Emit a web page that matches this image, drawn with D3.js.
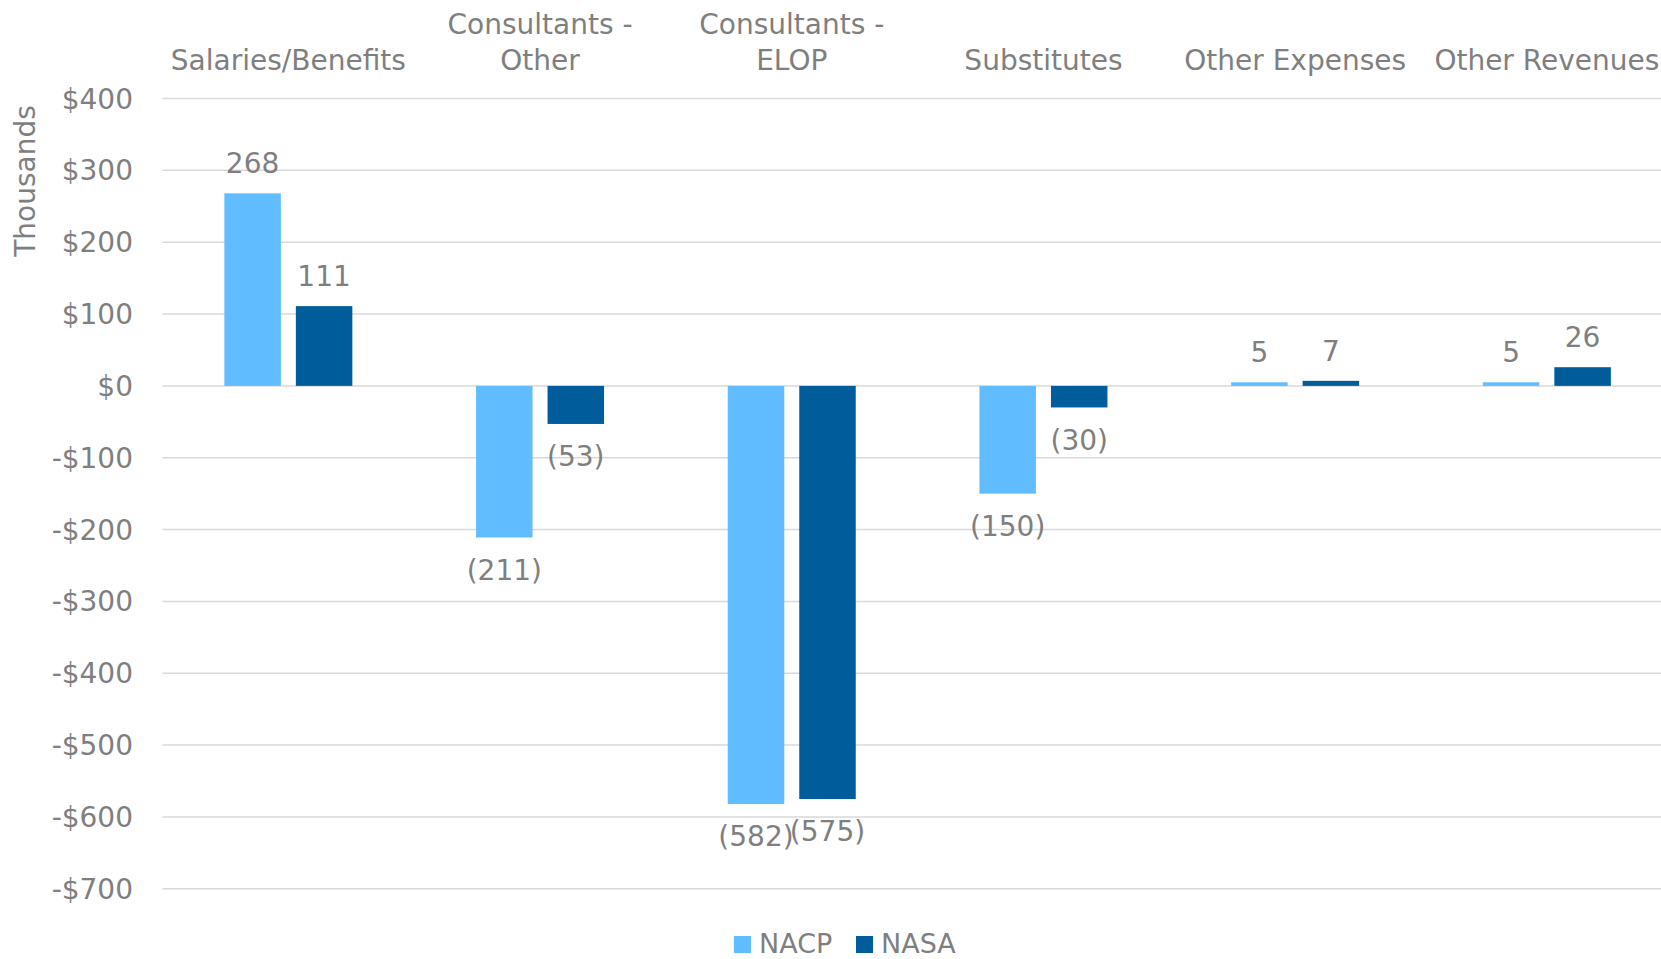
<!DOCTYPE html>
<html><head><meta charset="utf-8">
<script src="https://cdn.jsdelivr.net/npm/d3@7"></script>
<style>
html,body{margin:0;padding:0;background:#fff;overflow:hidden}
text{font-family:"DejaVu Sans",sans-serif;fill:#7f7f7f}
</style></head>
<body>
<svg id="c" width="1661" height="959"></svg>
<script>
const categories = [["Salaries/Benefits"],["Consultants -","Other"],["Consultants -","ELOP"],["Substitutes"],["Other Expenses"],["Other Revenues"]];
const seriesNames = ["NACP","NASA"];
const nacp = [268,-211,-582,-150,5,5];
const nasa = [111,-53,-575,-30,7,26];
const yTicks = [400,300,200,100,0,-100,-200,-300,-400,-500,-600,-700];
const colors = ["#61BDFF","#005C9B"];

const svg = d3.select("#c");
const W = 1661, H = 959;
const left = 162.5, bandW = 251.7;
const x = d3.scaleBand().domain(d3.range(categories.length)).range([left, left + bandW*categories.length]).paddingInner(0).paddingOuter(0);
const y = d3.scaleLinear().domain([-700,400]).range([888.8,98.5]);
const barW = 56.5, barGap = 15;
const x1 = d3.scaleOrdinal().domain([0,1]).range([-(barGap/2+barW), barGap/2]);

// gridlines
svg.append("g").selectAll("line").data(yTicks).join("line")
  .attr("x1", left).attr("x2", W)
  .attr("y1", d=>y(d)).attr("y2", d=>y(d))
  .attr("stroke","#d9d9d9").attr("stroke-width",1.5);

// y axis labels
const fmt = v => (v<0?"-":"") + "$" + Math.abs(v);
svg.append("g").selectAll("text").data(yTicks).join("text")
  .attr("x",133).attr("y",d=>y(d)).attr("dy","0.36em")
  .attr("text-anchor","end").attr("font-size",28).text(fmt);

// axis title
svg.append("text").attr("transform","translate(35,181) rotate(-90)")
  .attr("text-anchor","middle").attr("font-size",28).text("Thousands");

// category labels (top)
const catG = svg.append("g");
categories.forEach((lines,i)=>{
  const cx = x(i) + x.bandwidth()/2;
  const t = catG.append("text").attr("text-anchor","middle").attr("font-size",28);
  lines.forEach((ln,j)=>{
    const by = 70 - (lines.length-1-j)*36.5;
    t.append("tspan").attr("x",cx).attr("y",by).text(ln);
  });
});

// bars
const data = [];
categories.forEach((c,i)=>{ [nacp[i],nasa[i]].forEach((v,s)=>data.push({i,s,v})); });
svg.append("g").selectAll("rect").data(data).join("rect")
  .attr("x", d=> x(d.i)+x.bandwidth()/2 + x1(d.s))
  .attr("width", barW)
  .attr("y", d=> Math.min(y(d.v), y(0)))
  .attr("height", d=> Math.abs(y(d.v)-y(0)))
  .attr("fill", d=>colors[d.s]);

// data labels
const lab = v => v<0 ? "("+Math.abs(v)+")" : String(v);
svg.append("g").selectAll("text").data(data).join("text")
  .attr("x", d=> x(d.i)+x.bandwidth()/2 + x1(d.s) + barW/2)
  .attr("y", d=> d.v>=0 ? y(d.v)-30 : y(d.v)+32)
  .attr("dy","0.36em").attr("text-anchor","middle").attr("font-size",28)
  .text(d=>lab(d.v));

// legend
const lg = svg.append("g");
const legX = [734, 856];
seriesNames.forEach((n,s)=>{
  lg.append("rect").attr("x",legX[s]).attr("y",936).attr("width",17).attr("height",17).attr("fill",colors[s]);
  lg.append("text").attr("x",legX[s]+25).attr("y",953).attr("font-size",27).text(n);
});
</script>
</body></html>
